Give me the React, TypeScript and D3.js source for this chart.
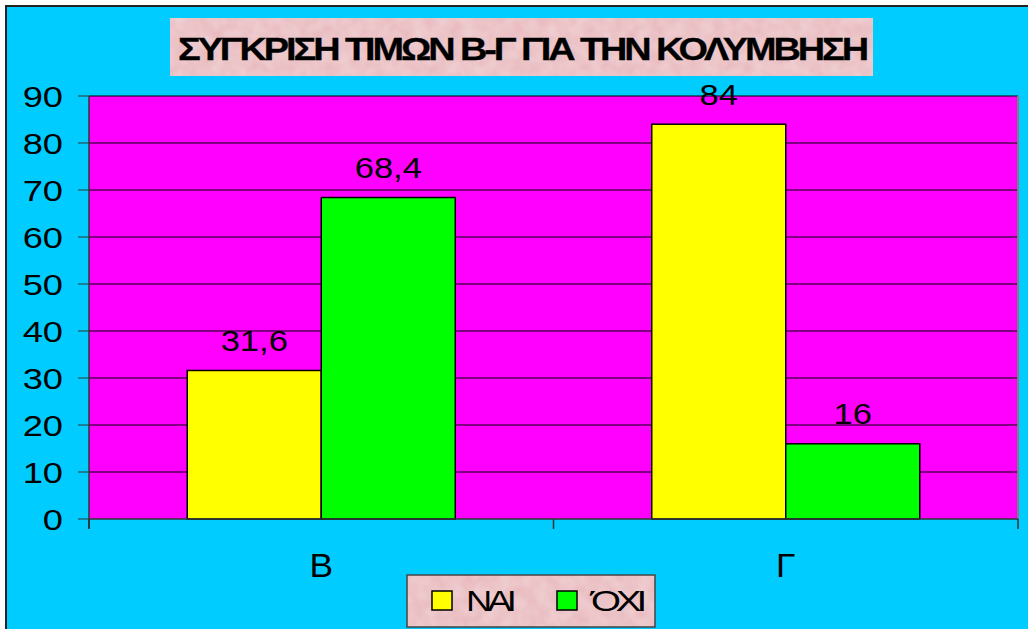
import React from "react";
import { scaleBand, scaleLinear } from "d3";

const categories = ["Β", "Γ"];
const seriesNames = ["ΝΑΙ", "ΌΧΙ"];
const naiValues = [31.6, 84];
const oxiValues = [68.4, 16];
const valueLabels = [["31,6", "68,4"], ["84", "16"]];
const yTicks = [0, 10, 20, 30, 40, 50, 60, 70, 80, 90];
const title = "ΣΥΓΚΡΙΣΗ ΤΙΜΩΝ Β-Γ ΓΙΑ ΤΗΝ ΚΟΛΥΜΒΗΣΗ";

const colors = ["#FFFF00", "#00FF00"];
const font = "'Liberation Sans', Arial, sans-serif";

// stretched text, the original is drawn a bit wider than Arial
function SText({ x, y, sx = 1.15, anchor = "middle", size, children }: any) {
  return (
    <text
      transform={`translate(${x},${y}) scale(${sx},1)`}
      textAnchor={anchor}
      fontSize={size}
    >
      {children}
    </text>
  );
}

export default function App() {
  const W = 1028;
  const H = 629;
  const plot = { left: 89, right: 1018, top: 96, bottom: 519 };

  const x0 = scaleBand().domain(categories).range([plot.left, plot.right]);
  const x1 = scaleBand()
    .domain(seriesNames)
    .range([0, x0.bandwidth()])
    .paddingInner(0)
    .paddingOuter(0.733);
  const y = scaleLinear().domain([0, 90]).range([plot.bottom, plot.top]);

  const series = [naiValues, oxiValues];

  return (
    <svg
      width={W}
      height={H}
      style={{ position: "absolute", left: 0, top: 0 }}
      fontFamily={font}
    >
      <defs>
        <filter id="tex" x="0" y="0" width="100%" height="100%">
          <feTurbulence type="fractalNoise" baseFrequency="0.08" numOctaves="2" seed="3" result="n" />
          <feColorMatrix
            in="n"
            type="matrix"
            values="0 0 0 0 0.95  0 0 0 0 0.82  0 0 0 0 0.84  0 0 0 0.5 0"
            result="c"
          />
          <feComposite in="c" in2="SourceGraphic" operator="atop" />
        </filter>
      </defs>
      <rect x={0} y={0} width={W} height={H} fill="#fff" />
      <rect x={6} y={6} width={W + 10} height={H + 10} fill="#00CCFF" stroke="#222" strokeWidth={2} />

      {/* title */}
      <rect x={170} y={18} width={703} height={58} fill="#E7B6BA" filter="url(#tex)" />
      <text
        x={522}
        y={60}
        textAnchor="middle"
        fontSize={32}
        fontWeight="bold"
        letterSpacing={-2.6}
        textLength={688}
        lengthAdjust="spacingAndGlyphs"
        stroke="#000"
        strokeWidth={0.3}
      >
        {title}
      </text>

      {/* plot area */}
      <rect
        x={plot.left}
        y={plot.top}
        width={plot.right - plot.left}
        height={plot.bottom - plot.top}
        fill="#FF00FF"
      />
      {yTicks.map((t) => (
        <g key={t}>
          {t > 0 && (
            <line x1={plot.left} x2={plot.right} y1={y(t)} y2={y(t)} stroke="#000" strokeWidth={1} />
          )}
          <line x1={78} x2={plot.left} y1={y(t)} y2={y(t)} stroke="#333" strokeWidth={1} />
          <SText x={63} y={y(t) + 11} anchor="end" size={29} sx={1.25}>
            {t}
          </SText>
        </g>
      ))}
      <line x1={plot.right} x2={plot.right} y1={plot.top} y2={plot.bottom} stroke="#808080" strokeWidth={2} />

      {/* bars */}
      {categories.map((c, ci) => (
        <g key={c}>
          {seriesNames.map((s, si) => {
            const v = series[si][ci];
            const bx = x0(c)! + x1(s)!;
            return (
              <g key={s}>
                <rect
                  x={bx}
                  y={y(v)}
                  width={x1.bandwidth()}
                  height={plot.bottom - y(v)}
                  fill={colors[si]}
                  stroke="#000"
                  strokeWidth={1.5}
                />
                <SText x={bx + x1.bandwidth() / 2} y={y(v) - 19.5} size={30}>
                  {valueLabels[ci][si]}
                </SText>
              </g>
            );
          })}
          <SText x={x0(c)! + x0.bandwidth() / 2} y={577} size={33} sx={1.07}>
            {c}
          </SText>
        </g>
      ))}

      {/* axes */}
      <line x1={plot.left} x2={plot.left} y1={plot.top} y2={plot.bottom + 10} stroke="#333" strokeWidth={1.5} />
      <line x1={plot.left} x2={plot.right} y1={plot.bottom} y2={plot.bottom} stroke="#333" strokeWidth={1.5} />
      {[...categories.map((c) => x0(c)!), plot.right].map((tx, i) => (
        <line key={i} x1={tx} x2={tx} y1={plot.bottom} y2={plot.bottom + 10} stroke="#333" strokeWidth={1.5} />
      ))}

      {/* legend */}
      <rect x={407} y={575} width={248} height={52} fill="#E7B6BA" filter="url(#tex)" />
      <rect x={407} y={575} width={248} height={52} fill="none" stroke="#444" strokeWidth={1.5} />
      {seriesNames.map((s, i) => {
        const lx = [432, 557][i];
        const tw = [46, 51][i];
        return (
          <g key={s}>
            <rect x={lx} y={591} width={20} height={19} fill={colors[i]} stroke="#000" strokeWidth={1.5} />
            <text
              x={lx + 34}
              y={611}
              fontSize={30}
              letterSpacing={-4}
              textLength={tw}
              lengthAdjust="spacingAndGlyphs"
            >
              {s}
            </text>
          </g>
        );
      })}
    </svg>
  );
}
